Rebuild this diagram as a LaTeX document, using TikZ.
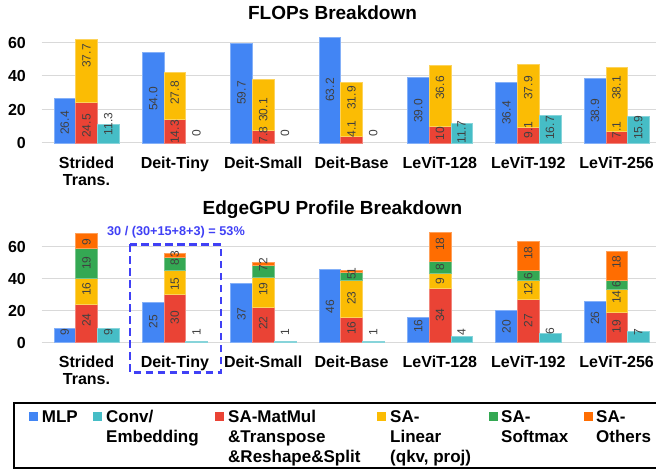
\documentclass[tikz,border=0pt]{standalone}
\usepackage{fontspec}
\setmainfont{Liberation Sans}
\definecolor{cmlp}{HTML}{4285F4}
\definecolor{cteal}{HTML}{46BDC6}
\definecolor{cred}{HTML}{EA4335}
\definecolor{cyel}{HTML}{FBBC04}
\definecolor{cgrn}{HTML}{34A853}
\definecolor{corg}{HTML}{FF6D01}
\definecolor{cgrid}{HTML}{D9D9D9}
\definecolor{clab}{HTML}{404040}
\definecolor{cann}{HTML}{4040F5}
\begin{document}
\begin{tikzpicture}[x=1pt,y=-1pt,
  bar/.style={line width=0.6pt},
  grid/.style={draw=cgrid,line width=1pt},
  dlab/.style={rotate=90,inner sep=0pt,text=clab,font=\fontsize{12}{14}\selectfont},
  tick/.style={anchor=east,inner sep=0pt,font=\fontsize{16}{18}\selectfont\bfseries},
  cat/.style={anchor=base,inner sep=0pt,font=\fontsize{16}{18}\selectfont\bfseries},
  ttl/.style={anchor=base,inner sep=0pt,font=\fontsize{19}{22}\selectfont\bfseries},
  leg/.style={anchor=base west,inner sep=0pt,font=\fontsize{17}{20}\selectfont\bfseries},
  legsq/.style={minimum width=9pt,minimum height=9pt,inner sep=0pt,anchor=center}]
\useasboundingbox (0,0) rectangle (656,470);

% ---------- titles ----------
\node[ttl] (t1) at (332.5,20) {FLOPs Breakdown};
\node[ttl] (t2) at (332.5,215) {EdgeGPU Profile Breakdown};

% ---------- grids and ticks ----------
\foreach \v/\yy in {0/143,20/109.5,40/76,60/42.5}{
  \draw[grid] (41.7,\yy) -- (656,\yy);
  \node[tick] (tt\v) at (26,\yy) {\v};
}
\foreach \v/\yy in {0/342.5,20/310.5,40/278.5,60/246.5}{
  \draw[grid] (41.7,\yy) -- (656,\yy);
  \node[tick] (bt\v) at (26,\yy) {\v};
}

% ---------- top chart bars ----------
\foreach \i/\b/\r/\yv/\t in {0/26.4/24.5/37.7/11.3,1/54.0/14.3/27.8/0,2/59.7/7.8/30.1/0,3/63.2/4.1/31.9/0,4/39.0/10/36.6/11.7,5/36.4/9.1/37.9/16.7,6/38.9/7.1/38.1/15.9}{
  \pgfmathsetmacro\xo{54+88.35*\i}
  \pgfmathsetmacro\xr{\xo+21.7}
  \pgfmathsetmacro\xt{\xo+43.4}
  \pgfmathsetmacro\yr{143-1.675*\r}
  \draw[bar,fill=cmlp,draw=cmlp!65!white] (\xo,143) rectangle ++(21.7,{-1.675*\b});
  \draw[bar,fill=cred,draw=cred!65!white] (\xr,143) rectangle ++(21.7,{-1.675*\r});
  \draw[bar,fill=cyel,draw=cyel!65!white] (\xr,\yr) rectangle ++(21.7,{-1.675*\yv});
  \ifdim\t pt>0pt
    \draw[bar,fill=cteal,draw=cteal!65!white] (\xt,143) rectangle ++(21.7,{-1.675*\t});
  \fi
}

% ---------- top chart labels ----------
\foreach \i/\ya/\la/\yb/\lb/\yc/\lc/\yd/\ld in {
  0/123/26.4/126/24.5/56/37.7/124/11.3,
  1/99/54.0/132/14.3/93/27.8/133/0,
  2/93/59.7/135/7.8/110/30.1/133/0,
  3/90/63.2/129/4.1/98/31.9/133/0,
  4/111/39.0/134/10/88/36.6/132/11.7,
  5/113/36.4/130/9.1/88/37.9/128/16.7,
  6/111/38.9/130/7.1/88/38.1/128/15.9}{
  \pgfmathsetmacro\xo{54+88.35*\i}
  \node[dlab] (tla\i) at ({\xo+10.85},\ya) {\la};
  \node[dlab] (tlb\i) at ({\xo+32.5},\yb) {\lb};
  \node[dlab] (tlc\i) at ({\xo+32.5},\yc) {\lc};
  \node[dlab] (tld\i) at ({\xo+54.2},\yd) {\ld};
}

% ---------- bottom chart bars ----------
\foreach \i/\b/\r/\yv/\g/\o/\t in {0/9/24/16/19/9/9,1/25/30/15/8/3/1,2/37/22/19/7/2/1,3/46/16/23/5/1/1,4/16/34/9/8/18/4,5/20/27/12/6/18/6,6/26/19/14/6/18/7}{
  \pgfmathsetmacro\xo{54+88.35*\i}
  \pgfmathsetmacro\xr{\xo+21.7}
  \pgfmathsetmacro\xt{\xo+43.4}
  \pgfmathsetmacro\yr{342.5-1.6*\r}
  \pgfmathsetmacro\yy{\yr-1.6*\yv}
  \pgfmathsetmacro\yg{\yy-1.6*\g}
  \draw[bar,fill=cmlp,draw=cmlp!65!white] (\xo,342.5) rectangle ++(21.7,{-1.6*\b});
  \draw[bar,fill=cred,draw=cred!65!white] (\xr,342.5) rectangle ++(21.7,{-1.6*\r});
  \draw[bar,fill=cyel,draw=cyel!65!white] (\xr,\yr) rectangle ++(21.7,{-1.6*\yv});
  \draw[bar,fill=cgrn,draw=cgrn!65!white] (\xr,\yy) rectangle ++(21.7,{-1.6*\g});
  \draw[bar,fill=corg,draw=corg!65!white] (\xr,\yg) rectangle ++(21.7,{-1.6*\o});
  \draw[bar,fill=cteal,draw=cteal!65!white] (\xt,342.5) rectangle ++(21.7,{-1.6*\t});
}

% ---------- bottom chart labels ----------
\foreach \i/\ya/\la/\yb/\lb/\yc/\lc/\yd/\ld/\ye/\le/\yf/\lf in {
  0/331.7/9/320/24/289.3/16/263.3/19/241.7/9/331.7/9,
  1/321.7/25/317.7/30/284/15/262/8/254.3/3/331.7/1,
  2/314/37/323.3/22/289/19/268.5/7/261.5/2/331.7/1,
  3/306.7/46/328.3/16/298.3/23/276.3/5/271.2/1/331.7/1,
  4/326/16/315/34/280.7/9/267.3/8/244/18/331.7/4,
  5/326.7/20/320.7/27/289.3/12/275.7/6/253.3/18/330.7/6,
  6/318.3/26/326.7/19/297.3/14/284/6/262.3/18/331.7/7}{
  \pgfmathsetmacro\xo{54+88.35*\i}
  \node[dlab] (bla\i) at ({\xo+10.85},\ya) {\la};
  \node[dlab] (blb\i) at ({\xo+32.5},\yb) {\lb};
  \node[dlab] (blc\i) at ({\xo+32.5},\yc) {\lc};
  \node[dlab] (bld\i) at ({\xo+32.5},\yd) {\ld};
  \node[dlab] (ble\i) at ({\xo+32.5},\ye) {\le};
  \node[dlab] (blf\i) at ({\xo+54.2},\yf) {\lf};
}

% ---------- category labels ----------
\foreach \i/\nm in {1/Deit-Tiny,2/Deit-Small,3/Deit-Base,4/LeViT-128,5/LeViT-192,6/LeViT-256}{
  \pgfmathsetmacro\xc{86.5+88.35*\i}
  \node[cat] (tc\i) at (\xc,168.7) {\nm};
  \node[cat] (bc\i) at (\xc,367.7) {\nm};
}
\node[cat] (tc0a) at (86.5,168.7) {Strided};
\node[cat] (tc0b) at (86.5,185.7) {Trans.};
\node[cat] (bc0a) at (86.5,367.4) {Strided};
\node[cat] (bc0b) at (86.5,384.2) {Trans.};

% ---------- annotation ----------
\node[anchor=base,inner sep=0pt,text=cann,font=\fontsize{12.7}{15}\selectfont\bfseries] (ann) at (176,235.5) {30 / (30+15+8+3) = 53\%};
\draw[draw=cann,line width=2.5pt,dash pattern=on 7.5pt off 4.5pt] (130,244.3) rectangle (221,372.7);

% ---------- legend ----------
\draw[line width=1.8pt] (14,402.7) rectangle (660,467.7);
\node[legsq,fill=cmlp] (sq1) at (33.8,416.5) {};
\node[leg] (l1) at (41.7,422) {MLP};
\node[legsq,fill=cteal] (sq2) at (97.5,416.5) {};
\node[leg] (l2a) at (106,422) {Conv/};
\node[leg] (l2b) at (106,442) {Embedding};
\node[legsq,fill=cred] (sq3) at (219.5,416.5) {};
\node[leg] (l3a) at (228,422) {SA-MatMul};
\node[leg] (l3b) at (228,442) {\&Transpose};
\node[leg] (l3c) at (228,462.5) {\&Reshape\&Split};
\node[legsq,fill=cyel] (sq4) at (381,416.5) {};
\node[leg] (l4a) at (390,422) {SA-};
\node[leg] (l4b) at (390,442) {Linear};
\node[leg] (l4c) at (390,462.5) {(qkv, proj)};
\node[legsq,fill=cgrn] (sq5) at (493,416.5) {};
\node[leg] (l5a) at (501,422) {SA-};
\node[leg] (l5b) at (501,442) {Softmax};
\node[legsq,fill=corg] (sq6) at (588.5,416.5) {};
\node[leg] (l6a) at (596,422) {SA-};
\node[leg] (l6b) at (596,442) {Others};
\end{tikzpicture}
\end{document}
